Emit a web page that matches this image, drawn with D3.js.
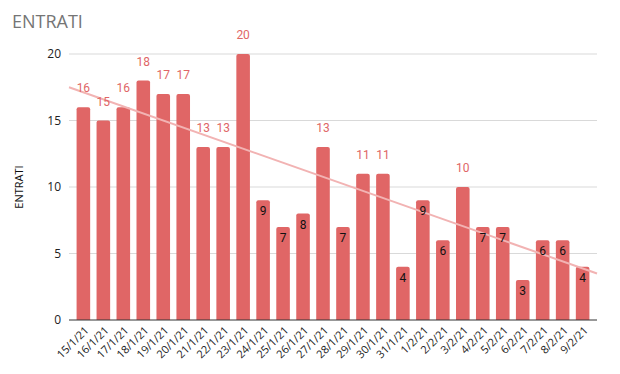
<!DOCTYPE html>
<html><head><meta charset="utf-8">
<script src="https://cdn.jsdelivr.net/npm/d3@7"></script>
<style>body{margin:0;background:#fff}svg{display:block}</style>
</head><body>
<script>
const categories = ["15/1/21","16/1/21","17/1/21","18/1/21","19/1/21","20/1/21","21/1/21","22/1/21","23/1/21","24/1/21","25/1/21","26/1/21","27/1/21","28/1/21","29/1/21","30/1/21","31/1/21","1/2/21","2/2/21","3/2/21","4/2/21","5/2/21","6/2/21","7/2/21","8/2/21","9/2/21"];
const values = [16,15,16,18,17,17,13,13,20,9,7,8,13,7,11,11,4,9,6,10,7,7,3,6,6,4];
const yTicks = [0,5,10,15,20];
const title = "ENTRATI";
const yTitle = "ENTRATI";

const W = 620, H = 374;
const m = {left:69, right:23, top:54, bottom:54};
const svg = d3.select("body").append("svg").attr("width",W).attr("height",H);

const x = d3.scaleBand().domain(categories).range([m.left, W-m.right]).paddingInner(0.32).paddingOuter(0.38);
const y = d3.scaleLinear().domain([0,20]).range([H-m.bottom, m.top]);

const barColor = "#e06666";

// grid
svg.append("g").selectAll("line").data(yTicks.filter(d=>d>0)).join("line")
  .attr("x1", m.left).attr("x2", W-m.right)
  .attr("y1", d=>y(d)).attr("y2", d=>y(d))
  .attr("stroke","#d9d9d9").attr("stroke-width",1);

// y tick labels
const yAxis = svg.append("g").attr("transform",`translate(${m.left},0)`)
  .call(d3.axisLeft(y).tickValues(yTicks).tickSize(0).tickPadding(8));
yAxis.select(".domain").remove();
yAxis.selectAll("text").attr("font-family","Open Sans, sans-serif").attr("font-size",12).attr("fill","#222");

// bars
const r = 2;
svg.append("g").selectAll("path").data(values).join("path")
  .attr("fill", barColor)
  .attr("d", (d,i)=>{
    const x0 = x(categories[i]), w = x.bandwidth(), y0 = y(d), y1 = y(0);
    return `M${x0},${y1}V${y0+r}Q${x0},${y0} ${x0+r},${y0}H${x0+w-r}Q${x0+w},${y0} ${x0+w},${y0+r}V${y1}Z`;
  });

// trend line (least squares over index)
const n = values.length;
const mx = d3.mean(values, (d,i)=>i), my = d3.mean(values);
const sxy = d3.sum(values, (d,i)=>(i-mx)*(d-my));
const sxx = d3.sum(values, (d,i)=>(i-mx)*(i-mx));
const slope = sxy/sxx, icpt = my - slope*mx;
const idxToPx = d3.scaleLinear().domain([0, n-1])
  .range([x(categories[0])+x.bandwidth()/2, x(categories[n-1])+x.bandwidth()/2]);
const xa = m.left, xb = W-m.right;
const ia = idxToPx.invert(xa), ib = idxToPx.invert(xb);
svg.append("line")
  .attr("x1", xa).attr("y1", y(icpt+slope*ia))
  .attr("x2", xb).attr("y2", y(icpt+slope*ib))
  .attr("stroke","#f2b3b3").attr("stroke-width",2);

// baseline axis
svg.append("line").attr("x1",m.left).attr("x2",W-m.right).attr("y1",y(0)).attr("y2",y(0))
  .attr("stroke","#333").attr("stroke-width",1);

// data labels
svg.append("g").selectAll("text").data(values).join("text")
  .attr("x",(d,i)=>x(categories[i])+x.bandwidth()/2)
  .attr("y", d=> d>=10 ? y(d)-15 : y(d)+15)
  .attr("text-anchor","middle")
  .attr("font-family","Roboto, sans-serif").attr("font-size",12)
  .attr("fill", d=> d>=10 ? "#e06666" : "#111")
  .text(d=>d);

// x labels
svg.append("g").selectAll("text").data(categories).join("text")
  .attr("transform",(d)=>`translate(${x(d)+x.bandwidth()/2+6},${y(0)+11}) rotate(-45)`)
  .attr("text-anchor","end")
  .attr("font-family","Open Sans, sans-serif").attr("font-size",11)
  .attr("fill","#222")
  .text(d=>d);

// titles
svg.append("text").attr("x",12).attr("y",28).attr("font-family","Open Sans, sans-serif")
  .attr("font-size",18).attr("fill","#757575").text(title);
svg.append("text").attr("transform",`translate(23,187) rotate(-90)`).attr("text-anchor","middle")
  .attr("font-family","Open Sans, sans-serif").attr("font-size",11).attr("fill","#111").text(yTitle);
</script>
</body></html>
